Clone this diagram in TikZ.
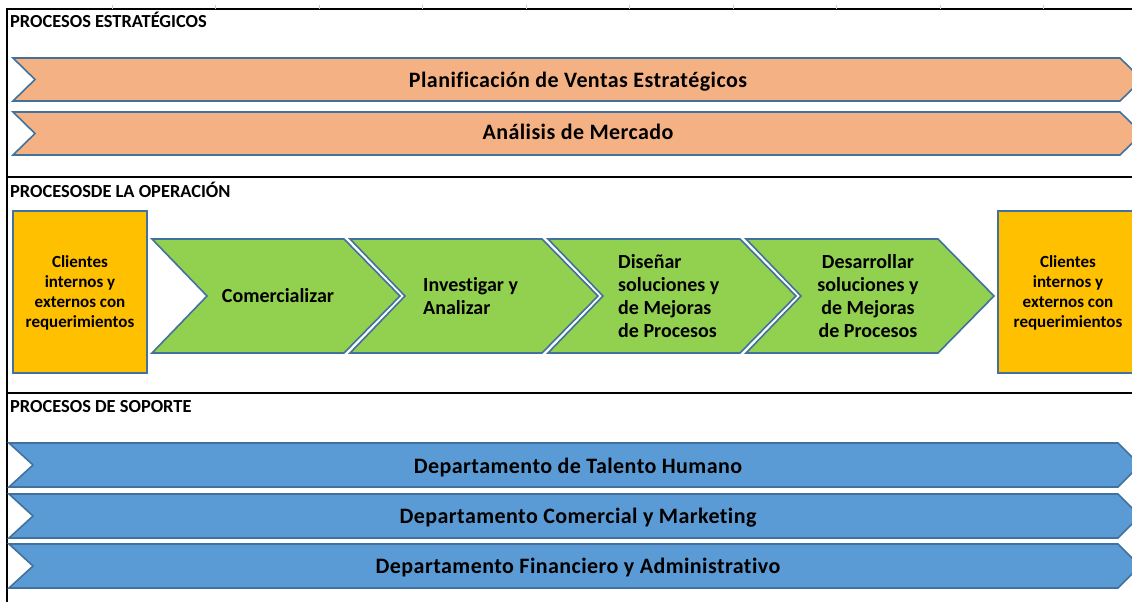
\documentclass[tikz,border=0pt]{standalone}
\usepackage{fontspec}
\setmainfont[Ligatures=NoCommon]{Carlito}
\usetikzlibrary{positioning}

\definecolor{estrat}{HTML}{F4B183}
\definecolor{soporte}{HTML}{5B9BD5}
\definecolor{operac}{HTML}{92D050}
\definecolor{cliente}{HTML}{FFC000}
\definecolor{contorno}{HTML}{41719C}

\tikzset{
  titulo/.style={anchor=base west, inner sep=0pt, font=\fontsize{18.4}{20}\selectfont\bfseries},
  banda/.style={draw=contorno, line width=1.6pt, line join=miter},
  bandtext/.style={anchor=base, inner sep=0pt, font=\fontsize{22}{24}\selectfont\bfseries\addfontfeature{LetterSpace=2}},
  chevtext/.style={inner sep=0pt, font=\fontsize{20}{23}\selectfont\bfseries},
  clientbox/.style={draw=contorno, fill=cliente, line width=1.6pt},
  clienttext/.style={inner sep=0pt, align=center, font=\fontsize{17}{20}\selectfont\bfseries},
  raya/.style={line width=2.2pt}
}

\begin{document}
\begin{tikzpicture}[x=1pt,y=-1pt]
    \useasboundingbox (0,0) rectangle (1132,602);
    \clip (0,0) rectangle (1132,602);

    % marco de la hoja
    \coordinate (tl) at (7,9);
    \coordinate (tr) at (1132,9);
    \coordinate (bl) at (7,602);
    \draw[line width=1.2pt] (tr) -- (tl) -- (bl);
    \foreach \t in {0,...,9}
        \draw[gray!40, line width=1pt] (112+103.5*\t,5) -- (112+103.5*\t,9);
    \coordinate (s1l) at (7,177);
    \coordinate (s1r) at (1132,177);
    \coordinate (s2l) at (7,393);
    \coordinate (s2r) at (1132,393);
    \draw[raya] (s1l) -- (s1r);
    \draw[raya] (s2l) -- (s2r);

    % titulos
    \node[titulo] (tEstrat) at (10,28) {PROCESOS ESTRATÉGICOS};
    \node[titulo] (tOper) at (10,197) {PROCESOSDE LA OPERACIÓN};
    \node[titulo] (tSop) at (10,412) {PROCESOS DE SOPORTE};

    % procesos estrategicos
    \foreach \top in {58,112}
        \draw[banda, fill=estrat] (13,\top) -- (1120,\top) -- (1142,\top+21.5)
            -- (1120,\top+43) -- (13,\top+43) -- (35,\top+21.5) -- cycle;
    \node[bandtext] (plan) at (578,87) {Planificación de Ventas Estratégicos};
    \node[bandtext] (merc) at (578,139) {Análisis de Mercado};

    % procesos de la operacion
    \draw[clientbox] (13,211) rectangle (147,373);
    \draw[clientbox] (998,211) rectangle (1138,373);
    \node[clienttext] (cliIn) at (80,293) {Clientes\\internos y\\externos con\\requerimientos};
    \node[clienttext] (cliOut) at (1068,293) {Clientes\\internos y\\externos con\\requerimientos};

    \foreach \x in {152,350,548,746}
        \draw[banda, fill=operac] (\x,239) -- (\x+192,239) -- (\x+248,296)
            -- (\x+192,353) -- (\x,353) -- (\x+55,296) -- cycle;
    \node[chevtext] (ch1) at (278,296) {Comercializar};
    \node[chevtext, anchor=west, align=left] (ch2) at (423,296) {Investigar y\\Analizar};
    \node[chevtext, anchor=west, align=left] (ch3) at (618,296) {Diseñar\\soluciones y\\de Mejoras\\de Procesos};
    \node[chevtext, align=center] (ch4) at (868,296) {Desarrollar\\soluciones y\\de Mejoras\\de Procesos};

    % procesos de soporte
    \foreach \top in {443,494,544}
        \draw[banda, fill=soporte] (9,\top) -- (1118,\top) -- (1140,\top+22)
            -- (1118,\top+44) -- (9,\top+44) -- (33,\top+22) -- cycle;
    \node[bandtext] (talento) at (578,473) {Departamento de Talento Humano};
    \node[bandtext] (comer) at (578,523) {Departamento Comercial y Marketing};
    \node[bandtext] (finan) at (578,573) {Departamento Financiero y Administrativo};
\end{tikzpicture}
\end{document}
